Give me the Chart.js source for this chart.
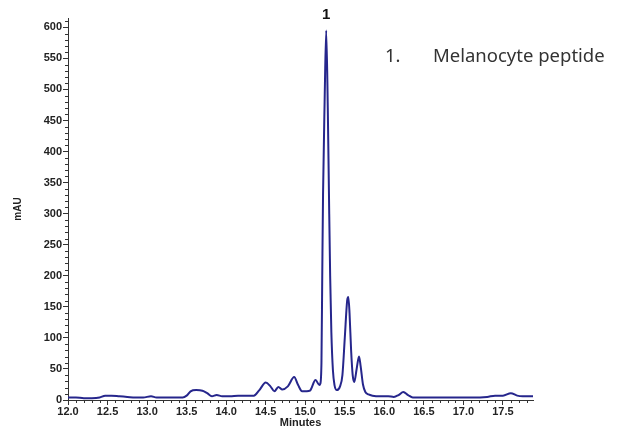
<!DOCTYPE html>
<html>
<head>
<meta charset="utf-8">
<script src="https://cdn.jsdelivr.net/npm/chart.js@4.4.1/dist/chart.umd.min.js"></script>
<style>
  html, body { margin: 0; padding: 0; background: #fff; }
  #wrap { width: 620px; height: 430px; }
</style>
</head>
<body>
<div id="wrap"><canvas id="chromatogram" width="620" height="430"></canvas></div>
<script>
// retention time (min) and absorbance (mAU)
const minutes = [
    12.00, 12.10, 12.20, 12.30, 12.40, 12.47, 12.55, 12.65, 12.75, 12.85,
    12.95, 13.05, 13.12, 13.25, 13.35, 13.45, 13.50, 13.55, 13.62, 13.70,
    13.76, 13.82, 13.88, 13.95, 14.05, 14.15, 14.25, 14.35, 14.42, 14.50,
    14.56, 14.61, 14.66, 14.71, 14.78, 14.86, 14.91, 14.96, 15.02, 15.06,
    15.13, 15.18, 15.19, 15.205, 15.215, 15.225, 15.245, 15.265, 15.285, 15.30,
    15.315, 15.33, 15.35, 15.37, 15.40, 15.44, 15.47, 15.50, 15.53, 15.545,
    15.56, 15.58, 15.60, 15.62, 15.65, 15.68, 15.70, 15.73, 15.76, 15.80,
    15.85, 15.95, 16.05, 16.12, 16.18, 16.24, 16.30, 16.36, 16.50, 16.70,
    16.90, 17.10, 17.30, 17.40, 17.50, 17.60, 17.68, 17.75, 17.85, 17.88
];
const mAU = [
    4, 4, 3, 3, 4, 7, 7, 6, 5, 4,
    4, 6, 4, 4, 4, 4, 7, 14, 16, 15,
    11, 6, 8, 6, 6, 7, 7, 7, 16, 28,
    22, 14, 21, 17, 22, 37, 24, 14, 14, 15,
    32, 24, 26, 60, 200, 330, 480, 595, 470, 330,
    200, 110, 48, 24, 16, 22, 40, 100, 160, 166,
    140, 80, 40, 29, 50, 70, 55, 25, 13, 9,
    7, 6, 6, 5, 8, 13, 8, 4, 4, 4,
    4, 4, 5, 7, 7, 11, 7, 6, 6, 6
];

const yTicks = [0, 50, 100, 150, 200, 250, 300, 350, 400, 450, 500, 550, 600];
const xTicks = [12.0, 12.5, 13.0, 13.5, 14.0, 14.5, 15.0, 15.5, 16.0, 16.5, 17.0, 17.5];

const peakLabel = '1';
const peakTime = 15.265;
const peakNames = ['Melanocyte peptide'];

const axisColor = '#333';
const lineColor = '#26268c';

// minor ticks, peak number and peak name list
const decorPlugin = {
    id: 'decor',
    afterDraw(chart) {
        const ctx = chart.ctx;
        const xs = chart.scales.x;
        const ys = chart.scales.y;
        ctx.save();
        ctx.strokeStyle = axisColor;
        ctx.lineWidth = 1;
        ctx.beginPath();
        for (let v = 0; v <= ys.max; v += 10) {
            if (v % 50 === 0) continue;
            const py = Math.round(ys.getPixelForValue(v)) + 0.5;
            ctx.moveTo(xs.left - 3, py);
            ctx.lineTo(xs.left, py);
        }
        for (let i = 120; i <= xs.max * 10; i++) {
            if (i % 5 === 0) continue;
            const px = Math.round(xs.getPixelForValue(i / 10)) + 0.5;
            ctx.moveTo(px, ys.bottom);
            ctx.lineTo(px, ys.bottom + 3);
        }
        ctx.stroke();

        ctx.fillStyle = '#111';
        ctx.font = 'bold 15px "Liberation Sans", Arial, sans-serif';
        ctx.textAlign = 'center';
        ctx.textBaseline = 'bottom';
        ctx.fillText(peakLabel, xs.getPixelForValue(peakTime), 22);

        ctx.fillStyle = '#333';
        ctx.font = '18.5px "Noto Sans", sans-serif';
        ctx.textAlign = 'left';
        ctx.textBaseline = 'alphabetic';
        peakNames.forEach((name, i) => {
            ctx.fillText((i + 1) + '.', 385, 62 + i * 26);
            ctx.fillText(name, 433, 62 + i * 26);
        });
        ctx.restore();
    }
};

const tickFont = { family: '"Liberation Sans", Arial, sans-serif', size: 11, weight: 'bold' };

new Chart(document.getElementById('chromatogram'), {
    type: 'line',
    data: {
        datasets: [{
            data: minutes.map((t, i) => ({ x: t, y: mAU[i] })),
            borderColor: lineColor,
            borderWidth: 2,
            pointRadius: 0,
            fill: false,
            cubicInterpolationMode: 'monotone'
        }]
    },
    options: {
        responsive: false,
        animation: false,
        layout: { padding: { left: 0, right: 87, top: 18, bottom: 0 } },
        plugins: { legend: { display: false }, tooltip: { enabled: false } },
        scales: {
            x: {
                type: 'linear',
                min: 12.0,
                max: 17.88,
                afterBuildTicks: (scale) => { scale.ticks = xTicks.map(v => ({ value: v })); },
                afterFit: (scale) => { scale.height = 30; },
                ticks: {
                    font: tickFont,
                    color: '#222',
                    padding: 0,
                    maxRotation: 0,
                    callback: (v) => Number(v).toFixed(1)
                },
                grid: { drawOnChartArea: false, tickLength: 5, color: axisColor },
                border: { color: axisColor, width: 1 },
                title: {
                    display: true,
                    text: 'Minutes',
                    font: { family: '"Liberation Sans", Arial, sans-serif', size: 11, weight: 'bold' },
                    color: '#222',
                    padding: { top: -2, bottom: 0 }
                }
            },
            y: {
                min: 0,
                max: 615,
                afterBuildTicks: (scale) => { scale.ticks = yTicks.map(v => ({ value: v })); },
                afterFit: (scale) => { scale.width = 68; },
                ticks: { font: tickFont, color: '#222', padding: 1 },
                grid: { drawOnChartArea: false, tickLength: 5, color: axisColor },
                border: { color: axisColor, width: 1 },
                title: {
                    display: true,
                    text: 'mAU',
                    font: { family: '"Liberation Sans", Arial, sans-serif', size: 10, weight: 'bold' },
                    color: '#222',
                    padding: { top: 12, bottom: 0 }
                }
            }
        }
    },
    plugins: [decorPlugin]
});
</script>
</body>
</html>
